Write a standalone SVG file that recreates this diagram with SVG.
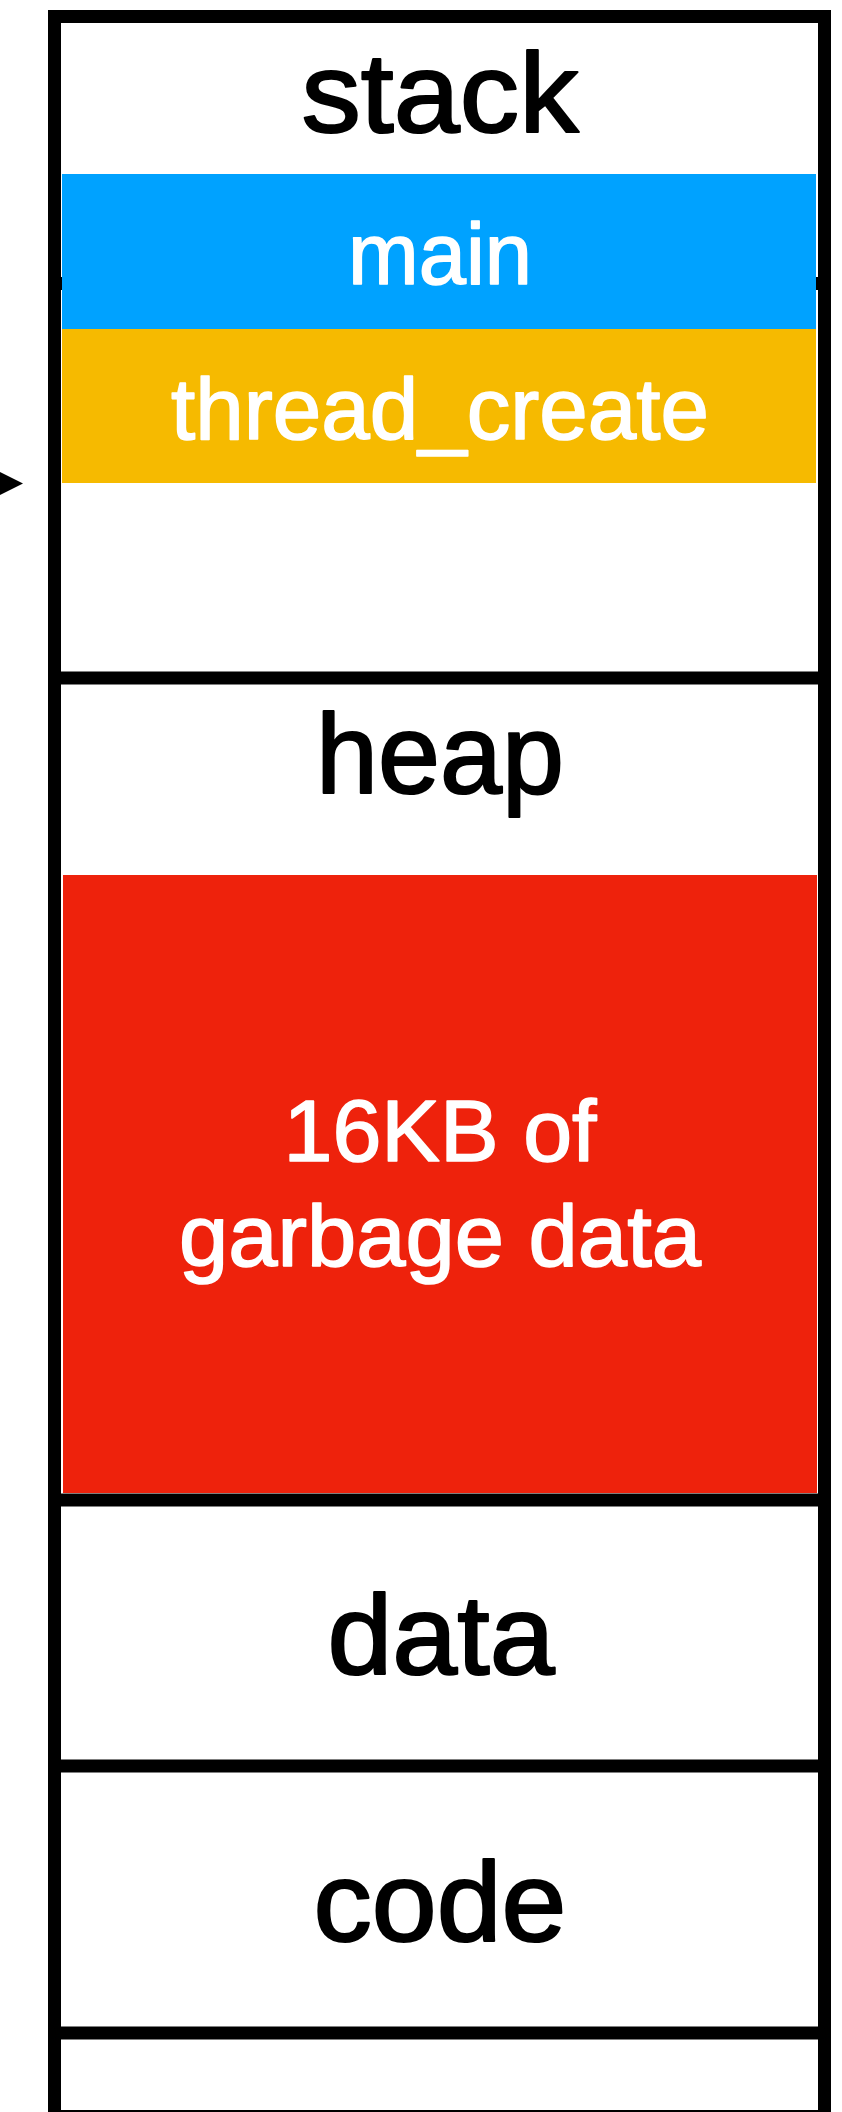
<svg xmlns="http://www.w3.org/2000/svg" width="842" height="2112" viewBox="0 0 842 2112">
  <style>
    .frame { fill: none; stroke: #000; stroke-width: 13; }
    .sep { stroke: #000; stroke-width: 13; }
    .seg { font-family: "Liberation Sans", Arial, Helvetica, sans-serif; font-size: 113px; fill: #000; stroke: #000; stroke-width: 2.2; stroke-linejoin: round; text-anchor: middle; }
    .lbl { font-family: "Liberation Sans", Arial, Helvetica, sans-serif; font-size: 87px; fill: #fff; stroke: #fff; stroke-width: 1.6; stroke-linejoin: round; text-anchor: middle; }
  </style>
  <rect width="842" height="2112" fill="#fff"/>

  <!-- outer memory frame (bottom edge runs off the page) -->
  <rect class="frame" x="54.5" y="16.5" width="770" height="2100"/>

  <!-- stack segment -->
  <g id="stack">
    <text class="seg" x="440" y="132" textLength="277" lengthAdjust="spacingAndGlyphs">stack</text>
  </g>

  <!-- stack frames -->
  <g id="frame-main">
    <line class="sep" x1="48" y1="283.5" x2="831" y2="283.5"/>
    <rect x="62" y="174" width="754" height="155" fill="#00A2FF"/>
    <text class="lbl" x="440" y="284" textLength="184" lengthAdjust="spacingAndGlyphs">main</text>
  </g>
  <g id="frame-thread_create">
    <rect x="62" y="329" width="754" height="154" fill="#F6BA00"/>
    <text class="lbl" x="440" y="439" textLength="538" lengthAdjust="spacingAndGlyphs">thread_create</text>
  </g>

  <!-- heap segment -->
  <g id="heap">
    <line class="sep" x1="48" y1="678" x2="831" y2="678"/>
    <text class="seg" x="440" y="793" textLength="248" lengthAdjust="spacingAndGlyphs">heap</text>
  </g>
  <g id="garbage">
    <rect x="63" y="875" width="754" height="618" fill="#EE220C"/>
    <text class="lbl" x="440" y="1161" textLength="313" lengthAdjust="spacingAndGlyphs">16KB of</text>
    <text class="lbl" x="440" y="1266" textLength="522" lengthAdjust="spacingAndGlyphs">garbage data</text>
  </g>

  <!-- data segment -->
  <g id="data">
    <line class="sep" x1="48" y1="1500" x2="831" y2="1500"/>
    <text class="seg" x="441" y="1674" textLength="227" lengthAdjust="spacingAndGlyphs">data</text>
  </g>

  <!-- code segment -->
  <g id="code">
    <line class="sep" x1="48" y1="1766" x2="831" y2="1766"/>
    <text class="seg" x="440" y="1941" textLength="253" lengthAdjust="spacingAndGlyphs">code</text>
  </g>

  <!-- remaining region below code -->
  <g id="lower">
    <line class="sep" x1="48" y1="2033" x2="831" y2="2033"/>
  </g>

  <!-- stack pointer arrow -->
  <g id="connectors">
    <polygon points="0,472 23,483.5 0,495" fill="#000"/>
  </g>
</svg>
